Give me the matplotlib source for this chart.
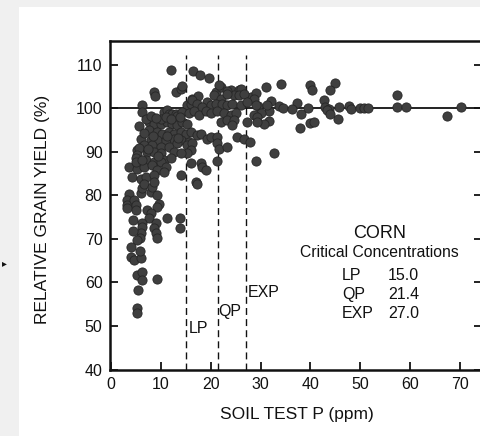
import matplotlib
matplotlib.use("Agg")
import matplotlib.pyplot as plt
from matplotlib.patches import Rectangle

plt.rcParams["font.family"] = ["Liberation Sans", "DejaVu Sans"]

# ------------------------------------------
# Data

soil_p = [
    # upper outliers and right-hand tail
    12.0, 16.5, 17.9, 19.7, 8.7, 8.9, 13.0, 14.0, 14.3, 21.0,
    22.0, 21.7, 24.0, 25.7, 24.7, 23.3, 26.0, 28.0, 29.0, 31.0,
    34.0, 32.0, 33.7, 31.7, 31.7, 39.9, 40.3, 45.0, 43.9, 57.3,
    42.8, 37.3, 34.5, 39.5, 43.0, 43.7, 43.3, 45.7, 47.7, 48.2,
    49.9, 50.7, 51.5, 57.3, 59.2, 70.2, 67.3, 38.1, 38.0, 39.9,
    40.7, 43.9, 45.5, 6.3, 6.3, 29.5, 31.3, 30.0, 30.7, 32.7,
    29.0, 28.7, 36.2,
    # dense core
    16.3, 17.5, 19.3, 20.7, 22.0, 23.3, 25.7, 26.7, 28.7,
    15.3, 16.0, 16.3, 17.3, 18.3, 20.0, 21.0, 22.3, 23.3, 24.3,
    26.0, 27.3, 29.0,
    10.7, 11.3, 11.7, 12.3, 13.0, 13.3, 14.3, 15.7, 16.7, 17.7,
    19.0, 20.0, 21.3, 22.7, 24.0, 25.0,
    29.3, 29.3, 27.3, 22.0, 23.3, 24.7, 24.3,
    5.7, 7.7, 8.7, 10.0, 11.3, 12.3, 13.3, 14.3, 15.3, 10.0, 11.0,
    7.7, 9.3, 10.3, 11.7, 12.7, 14.0, 15.0, 16.0,
    17.3, 18.0, 19.3, 20.0, 21.3, 21.3, 25.3, 26.7, 27.9,
    6.0, 8.0, 9.3, 11.0, 12.7, 14.0, 15.7,
    6.7, 8.3, 10.0, 11.7, 13.3, 15.3, 16.3,
    21.7, 23.3, 16.0, 15.3, 12.7, 14.0,
    5.3, 7.3, 8.7, 10.0, 5.7, 5.3,
    5.0, 7.0, 8.7, 10.7,
    16.0, 18.0, 18.3, 19.0, 21.3,
    3.7, 5.3, 6.7, 8.3, 10.0, 11.0, 9.3, 5.0,
    4.3, 6.0, 7.0, 8.7, 10.7, 14.0, 17.0,
    7.0, 8.0, 9.0, 12.0, 13.8, 6.7, 8.5, 11.2, 13.5, 7.5,
    9.5, 12.0, 6.3,
    # lower left
    3.7, 3.2, 3.2, 3.3, 4.7, 5.0, 5.0, 6.0, 6.3, 6.7,
    8.0, 8.3, 8.7, 9.3, 9.7, 9.3, 7.3, 8.0, 7.7, 9.0,
    8.7, 9.0, 9.3, 6.3, 6.3, 6.0, 5.9, 4.5, 5.2, 4.0,
    4.1, 4.7, 6.0, 5.9, 5.3, 6.3, 6.3, 5.5, 9.3, 5.2,
    5.3, 11.3, 13.8, 13.8, 4.5, 17.3,
]

rel_yield = [
    # upper outliers and right-hand tail
    108.8, 108.6, 107.7, 106.8, 103.8, 102.8, 103.8, 104.4, 105.1, 103.7,
    104.8, 105.3, 104.2, 104.2, 103.1, 104.0, 104.5, 102.6, 103.4, 104.8,
    105.6, 101.6, 100.4, 99.4, 97.1, 105.4, 104.2, 105.8, 104.2, 103.1,
    101.8, 101.2, 100.0, 100.0, 100.2, 99.9, 99.5, 100.2, 100.4, 99.9,
    100.1, 100.1, 100.1, 100.2, 100.2, 100.2, 98.1, 98.6, 95.4, 96.6,
    96.8, 98.6, 97.6, 100.6, 99.1, 100.5, 100.8, 98.8, 96.4, 89.6,
    87.9, 98.5, 99.8,
    # dense core
    102.2, 102.7, 101.4, 102.9, 102.2, 103.3, 102.9, 103.3, 102.2,
    100.6, 100.9, 101.8, 101.0, 100.3, 100.6, 101.0, 101.0, 100.6, 101.0,
    100.6, 101.4, 100.6,
    99.1, 99.6, 98.7, 98.7, 98.7, 98.2, 99.1, 98.9, 99.3, 98.5,
    99.3, 98.9, 99.3, 98.9, 98.5, 98.9,
    97.9, 96.8, 96.8, 96.8, 97.2, 97.2, 96.1,
    95.8, 96.8, 96.4, 96.4, 96.8, 96.4, 96.1, 96.8, 96.4, 97.4, 98.0,
    95.0, 94.5, 94.1, 94.5, 94.1, 94.5, 94.1, 94.5,
    93.8, 94.0, 93.0, 93.4, 93.4, 91.9, 93.4, 93.0, 92.2,
    93.0, 92.6, 92.6, 92.6, 93.0, 92.6, 92.2,
    91.5, 91.5, 91.1, 91.1, 91.9, 91.5, 91.9,
    90.7, 91.1, 90.3, 89.6, 89.9, 89.6,
    90.3, 89.9, 89.9, 89.6, 90.9, 89.2,
    88.5, 88.1, 87.7, 88.1,
    87.3, 87.4, 86.4, 85.8, 87.9,
    86.5, 86.1, 86.5, 86.9, 87.6, 86.5, 85.8, 87.7,
    84.2, 83.8, 84.2, 84.6, 85.4, 84.6, 83.1,
    97.5, 98.3, 97.8, 97.5, 97.9, 94.3, 93.6, 93.5, 93.2, 90.6,
    88.9, 88.5, 88.0,
    # lower left
    80.4, 78.9, 77.8, 77.0, 78.9, 77.8, 76.6, 80.5, 81.6, 82.7,
    80.8, 82.0, 83.1, 80.0, 78.1, 77.4, 76.6, 75.9, 74.7, 73.6,
    72.4, 71.3, 70.1, 73.6, 72.8, 71.3, 70.1, 74.3, 69.7, 68.2,
    65.8, 65.2, 65.6, 67.1, 61.7, 62.5, 60.6, 58.3, 60.8, 54.1,
    53.0, 74.7, 74.7, 72.4, 71.9, 82.7,
]

models = ["LP", "QP", "EXP"]
critical = [15.0, 21.4, 27.0]

# ------------------------------------------
# Figure

W, H = 481, 436
fig = plt.figure(figsize=(W / 100, H / 100), dpi=100, facecolor="#f0f0f0")
fig.add_artist(Rectangle((19 / W, 0), 1, (H - 7) / H, transform=fig.transFigure,
                         facecolor="white", edgecolor="none", zorder=0))
fig.text(4 / W, (H - 263) / H, "\u25b8", fontsize=7, ha="center", va="center",
         family=["DejaVu Sans"], color="#111111")

ax = fig.add_axes([109.5 / W, 66.4 / H, 373 / W, 328.6 / H])
ax.set_facecolor("white")

ax.scatter(soil_p, rel_yield, s=44, c="#3f3f3f", edgecolors="#262626",
           linewidths=0.6, zorder=3)
ax.axhline(100, color="#111111", lw=1.3, zorder=2)

label_pos = [(15.5, 49.4), (21.5, 53.3), (27.4, 57.6)]
for name, c, (lx, ly) in zip(models, critical, label_pos):
    ax.plot([c, c], [40, 112.2], ls=(0, (5, 3)), color="#111111", lw=1.0, zorder=2)
    ax.text(lx, ly, name, fontsize=11.5, ha="left", va="center", color="#111111")

ax.text(53.9, 71.3, "CORN", fontsize=13, ha="center", va="center", color="#111111")
ax.text(53.8, 66.8, "Critical Concentrations", fontsize=11.3, ha="center",
        va="center", color="#111111")
for i, (name, c) in enumerate(zip(models, critical)):
    yy = 61.7 - i * 4.4
    ax.text(46.3, yy, name, fontsize=11.5, ha="left", va="center", color="#111111")
    ax.text(55.5, yy, f"{c:.1f}", fontsize=11.5, ha="left", va="center", color="#111111")

ax.set_xlim(-0.3, 74.5)
ax.set_ylim(40, 115.4)
ax.set_xticks(range(0, 80, 10))
ax.set_yticks(range(40, 120, 10))
ax.tick_params(direction="in", length=6, width=1.3, labelsize=11.5, pad=5,
               right=True, colors="#111111")
for side in ["left", "bottom", "top", "right"]:
    ax.spines[side].set_linewidth(1.8)
    ax.spines[side].set_color("#111111")

fig.text(296.7 / W, (H - 414) / H, "SOIL TEST P (ppm)", fontsize=12.5,
         ha="center", va="center", color="#111111")
fig.text(42.5 / W, (H - 209) / H, "RELATIVE GRAIN YIELD (%)", fontsize=12.5,
         ha="center", va="center", rotation=90, color="#111111")

fig.savefig("out.png", dpi=100, facecolor=fig.get_facecolor())
